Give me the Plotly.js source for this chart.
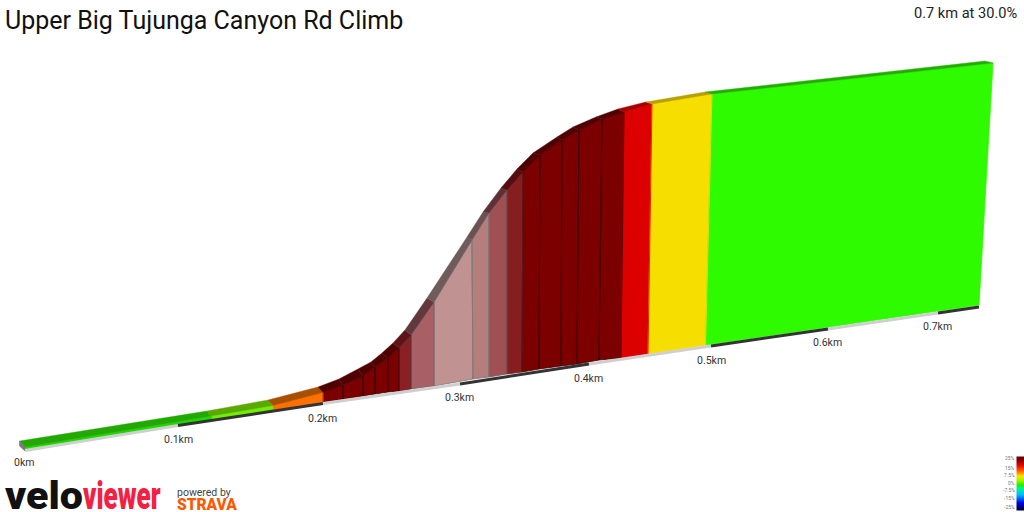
<!DOCTYPE html>
<html><head><meta charset="utf-8">
<script src="https://cdn.plot.ly/plotly-3.0.1.min.js"></script>
<style>html,body{margin:0;padding:0;background:#fff}#c{width:1024px;height:512px}</style>
</head><body><div id="c"></div>
<script>
const titleText = "Upper Big Tujunga Canyon Rd Climb";
const summaryText = "0.7 km at 30.0%";

// road section boundaries
const baseX = [25,212,273,323,343,363,375,388,399,411,434,473,489,507,522,539,561,577,599,621,648,705.5,979];
const baseY = [449,420,410,402,399,396,394,392,391,389,386,379,377,374,372,369,366,364,360,358,354,345,305];
const topX  = [25,211,273,323,343,363,375,388,399,411,434,472,489,507,523,540,562,579,602,624,652,712,993];
const topY  = [447,416,405.5,392.5,385,376,367,358,348,335,302,240,213,190,172,155,140,130,119,112,104,94,63];
const backX = [19.5,207,268,318,339,358,371,382,393,405,427,467,483,501,517,533,557,573,596,618,646,705,985];
const backY = [441,411,400,387,379,369,362,353,343,330,298,237,212,188,169,153,137,127,117,109,102,92,61];

const sideColors = ["#1fd800","#6fef00","#ff7000","#7c0000","#7c0000","#7c0000","#7c0000","#7c0000","#8a2024","#a86066","#c09292","#b47e7c","#a05052","#861e20","#7c0000","#7c0000","#7c0000","#7c0000","#7c0000","#dc0000","#f6df00","#2efa00"];
const topColors  = ["#22a800","#5aa800","#a85000","#500000","#500000","#500000","#500000","#500000","#5c1418","#63383c","#6f5a5c","#6d5052","#5f3034","#560c10","#500000","#500000","#500000","#500000","#500000","#a80000","#b8a000","#22ae00"];
const edgeColors = ["#1fd800","#6fef00","#ff7000","#3c0000","#3c0000","#3c0000","#3c0000","#3c0000","#5a2024","#706066","#807878","#807878","#706066","#5a2024","#3c0000","#3c0000","#3c0000","#3c0000","#3c0000","#dc0000","#f6df00","#2efa00"];

const kmLabels = ["0km","0.1km","0.2km","0.3km","0.4km","0.5km","0.6km","0.7km"];
const kmX = [25,178,323,460,589,711,828,938,979];
const kmY = [450.5,425.5,403.5,384,364,346,329,313,307];
const kmLabelX = [24,178,322,459,588,711,827,937];
const kmLabelY = [462,439,418,397,378,360,342,326];
const stripColors = ["#cfcfcf","#333333"];

const capX = [19.5,25,25,19.5];
const capY = [441,447,451,446];

const legendLabels = ["25%","15%","7.5%","0%","-7.5%","-15%","-25%"];
const legendLabelY = [458,468,475,483,490,498,507];
const legendRowY = [458,461,464,467,470,473,476,479,482,485,488,491,494,497,500,503,506,509];
const legendRowZ = [25,22,19,16.5,14,11,8,5,2,-1,-4,-7,-10,-13,-16,-19,-22,-25];
const legendScale = [[0,"#00003c"],[0.14,"#0000e0"],[0.3,"#00b8ff"],[0.42,"#00f0a0"],[0.5,"#20f000"],[0.6,"#b0f000"],[0.68,"#ffe000"],[0.78,"#ff6000"],[0.88,"#e00000"],[1,"#700000"]];

const traces = [];
function poly(x,y,fill,line,w){
  traces.push({type:"scatter",mode:"lines",x:x.concat([x[0]]),y:y.concat([y[0]]),fill:"toself",fillcolor:fill,
    line:{color:line||fill,width:w===undefined?0.6:w},hoverinfo:"skip",showlegend:false});
}
sideColors.forEach((c,i)=>{
  poly([baseX[i],baseX[i+1],topX[i+1],topX[i]],[baseY[i],baseY[i+1],topY[i+1],topY[i]],c,edgeColors[i],0.8);
});
// separators must stay visible, so the top faces and boundary strokes follow the side faces
sideColors.forEach((c,i)=>{
  if(i>0){
    traces.push({type:"scatter",mode:"lines",x:[baseX[i],topX[i]],y:[baseY[i],topY[i]],line:{color:edgeColors[i-1],width:0.8},hoverinfo:"skip",showlegend:false});
  }
  poly([topX[i],topX[i+1],backX[i+1],backX[i]],[topY[i],topY[i+1],backY[i+1],backY[i]],topColors[i],topColors[i],0.4);
});
poly(capX,capY,"#777777");
for(let i=0;i<kmX.length-1;i++){
  traces.push({type:"scatter",mode:"lines",x:[kmX[i],kmX[i+1]],y:[kmY[i],kmY[i+1]],
    line:{color:stripColors[i%2],width:3},hoverinfo:"skip",showlegend:false});
}
traces.push({type:"heatmap",x:[1019,1024],y:legendRowY,z:legendRowZ.map(v=>[v,v]),zmin:-25,zmax:25,colorscale:legendScale,showscale:false,hoverinfo:"skip",zsmooth:"best"});

const ann=(x,y,t,size,color,anchor,extra)=>({x,y,text:t,xref:"x",yref:"y",showarrow:false,xanchor:anchor||"center",yanchor:"middle",font:Object.assign({family:"Roboto",size,color},extra||{})});
const annotations=[
  ann(3,20,titleText,25,"#111","left"),
  ann(1019,13,summaryText,14.6,"#222","right")
];
kmLabels.forEach((t,i)=>annotations.push(ann(kmLabelX[i],kmLabelY[i],t,10.5,"#333")));
legendLabels.forEach((t,i)=>annotations.push(ann(1017,legendLabelY[i],t,5,"#777","right")));
annotations.push(ann(44,496,"velo",38,"#111","center",{weight:900}));
annotations.push(ann(122,496,"viewer",38,"#f5203f","center",{weight:900}));
annotations.push(ann(175,492,"powered by",10.5,"#444","left"));
annotations.push(ann(207,504,"STRAVA",16,"#fc5a02","center",{weight:900}));

// the logo lettering is condensed horizontally to the widths seen in the picture
const logoWidths = {"velo":78,"viewer":78,"STRAVA":60};
Plotly.newPlot("c",traces,{
  width:1024,height:512,margin:{l:0,r:0,t:0,b:0},paper_bgcolor:"#fff",plot_bgcolor:"#fff",showlegend:false,
  xaxis:{range:[0,1024],visible:false,fixedrange:true},
  yaxis:{range:[512,0],visible:false,fixedrange:true},
  annotations
},{displayModeBar:false,staticPlot:true}).then(()=>{
  document.querySelectorAll("#c .annotation-text").forEach(t=>{
    const w=logoWidths[t.textContent];
    if(w){
      const b=t.getBBox(), cx=b.x+b.width/2, sx=w/b.width;
      t.setAttribute("transform",`translate(${cx} 0) scale(${sx} 1) translate(${-cx} 0)`);
    }
  });
});
</script></body></html>
